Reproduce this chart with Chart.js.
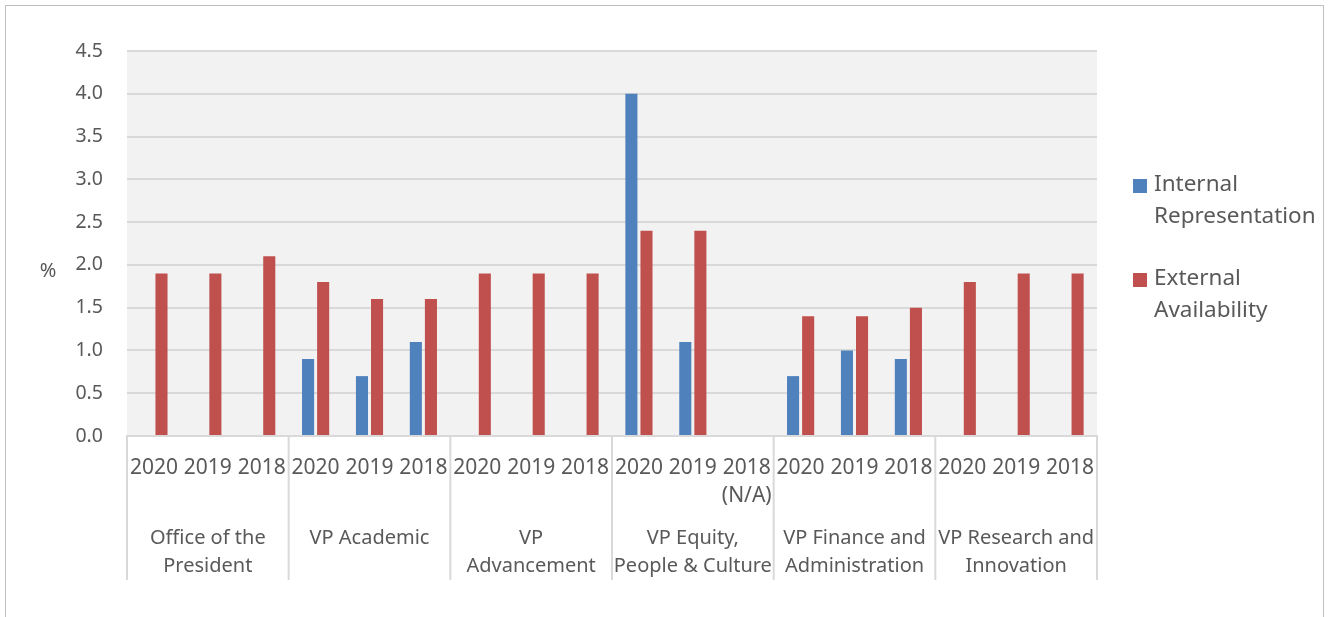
<!DOCTYPE html>
<html>
<head>
<meta charset="utf-8">
<script src="https://cdn.jsdelivr.net/npm/chart.js@4.4.1/dist/chart.umd.min.js"></script>
<style>
  html, body { margin: 0; padding: 0; background: #fff; overflow: hidden; }
  #frame { position: absolute; left: 5px; top: 5px; width: 1319px; height: 700px; border: 1px solid #bfbfbf; box-sizing: border-box; }
  #wrap { position: absolute; left: 0; top: 0; width: 1328px; height: 617px; }
</style>
</head>
<body>
<div id="frame"></div>
<div id="wrap"><canvas id="chart" width="1328" height="617"></canvas></div>
<script>
// departments (second level of the x axis), 3 years each
const departments = [
    ["Office of the", "President"],
    ["VP Academic"],
    ["VP", "Advancement"],
    ["VP Equity,", "People & Culture"],
    ["VP Finance and", "Administration"],
    ["VP Research and", "Innovation"]
];
const years = [
    "2020", "2019", "2018",
    "2020", "2019", "2018",
    "2020", "2019", "2018",
    "2020", "2019", ["2018", "(N/A)"],
    "2020", "2019", "2018",
    "2020", "2019", "2018"
];
const seriesNames = ["Internal Representation", "External Availability"];
const internalRep = [null, null, null, 0.9, 0.7, 1.1, null, null, null, 4.0, 1.1, null, 0.7, 1.0, 0.9, null, null, null];
const externalAvail = [1.9, 1.9, 2.1, 1.8, 1.6, 1.6, 1.9, 1.9, 1.9, 2.4, 2.4, null, 1.4, 1.4, 1.5, 1.8, 1.9, 1.9];
const yMax = 4.5;
const yStep = 0.5;

const textColor = "#595959";
const fontFamily = "'Noto Sans', 'Open Sans', sans-serif";

// grey plot background, department separators + labels, "%" title, legend
const decorations = {
    id: "decorations",
    beforeDraw(chart) {
        const { ctx, chartArea } = chart;
        ctx.save();
        ctx.fillStyle = "#f2f2f2";
        ctx.fillRect(chartArea.left, chartArea.top, chartArea.right - chartArea.left, chartArea.bottom - chartArea.top);
        ctx.restore();
    },
    afterDraw(chart) {
        const { ctx, chartArea } = chart;
        const xs = chart.scales.x;
        ctx.save();

        // department boundaries
        const bounds = [];
        for (let g = 0; g <= departments.length; g++) {
            const i = g * 3;
            if (g === 0) bounds.push(chartArea.left);
            else if (g === departments.length) bounds.push(chartArea.right);
            else bounds.push((xs.getPixelForValue(i - 1) + xs.getPixelForValue(i)) / 2);
        }
        ctx.strokeStyle = "#d9d9d9";
        ctx.lineWidth = 2;
        bounds.forEach(function (x) {
            ctx.beginPath();
            ctx.moveTo(x, chartArea.bottom);
            ctx.lineTo(x, 580);
            ctx.stroke();
        });

        ctx.fillStyle = textColor;
        ctx.font = "20px " + fontFamily;
        ctx.textAlign = "center";
        ctx.textBaseline = "middle";
        departments.forEach(function (lines, g) {
            const cx = (bounds[g] + bounds[g + 1]) / 2;
            lines.forEach(function (line, k) {
                ctx.fillText(line, cx, 538 + k * 28);
            });
        });

        // y axis title (horizontal)
        ctx.font = "20px " + fontFamily;
        ctx.fillText("%", 48, 271);

        // legend
        ctx.textAlign = "left";
        ctx.font = "22.5px " + fontFamily;
        chart.data.datasets.forEach(function (ds, d) {
            const y0 = 186 + d * 94;
            ctx.fillStyle = ds.backgroundColor;
            ctx.fillRect(1133, y0 - 7, 14, 14);
            ctx.fillStyle = textColor;
            ds.label.split(" ").forEach(function (word, k) {
                ctx.fillText(word, 1154, y0 - 1 + k * 32);
            });
        });
        ctx.restore();
    }
};

const chart = new Chart(document.getElementById("chart"), {
    type: "bar",
    data: {
        labels: years,
        datasets: [
            {
                label: seriesNames[0],
                data: internalRep,
                backgroundColor: "#4f81bd"
            },
            {
                label: seriesNames[1],
                data: externalAvail,
                backgroundColor: "#c0504d"
            }
        ]
    },
    options: {
        responsive: false,
        animation: false,
        categoryPercentage: 0.56,
        barPercentage: 0.8,
        layout: {
            padding: { top: 51, right: 231, bottom: 0, left: 0 }
        },
        plugins: {
            legend: { display: false },
            tooltip: { enabled: false }
        },
        scales: {
            x: {
                afterFit(scale) { scale.height = 181; },
                grid: { drawOnChartArea: false, drawTicks: false },
                border: { color: "#d9d9d9", width: 2 },
                ticks: {
                    color: textColor,
                    font: { family: fontFamily, size: 21, lineHeight: 1.34 },
                    padding: 18,
                    maxRotation: 0,
                    autoSkip: false
                }
            },
            y: {
                min: 0,
                max: yMax,
                afterFit(scale) { scale.width = 127; },
                grid: { color: "#d9d9d9", lineWidth: 2, drawTicks: false },
                border: { display: false },
                ticks: {
                    stepSize: yStep,
                    color: textColor,
                    font: { family: fontFamily, size: 19.5 },
                    padding: 24,
                    callback: function (v) { return Number(v).toFixed(1); }
                }
            }
        }
    },
    plugins: [decorations]
});
</script>
</body>
</html>
